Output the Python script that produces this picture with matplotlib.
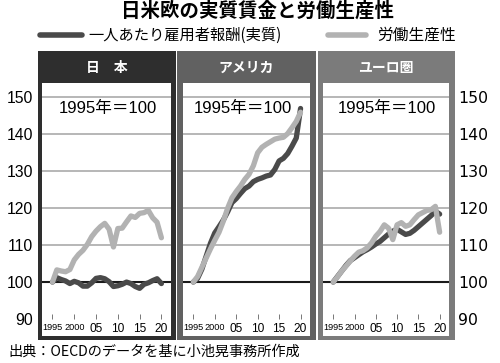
import numpy as np
import matplotlib
matplotlib.use('Agg')
import matplotlib.pyplot as plt
from matplotlib.patches import Rectangle
from matplotlib.lines import Line2D

JP = ['Noto Sans CJK JP', 'DejaVu Sans']
NUM = ['Liberation Sans', 'Noto Sans CJK JP', 'DejaVu Sans']

years = np.arange(1995, 2021)

jp_wage = [100, 101.2, 100.7, 100.3, 99.6, 100.2, 99.8, 98.9, 98.9, 99.8, 101.0, 101.2, 100.9,
           100.1, 98.8, 99.0, 99.4, 100.0, 99.6, 98.8, 98.3, 99.4, 99.8, 100.4, 100.9, 99.6]
jp_prod = [100, 103.3, 103.0, 102.8, 103.4, 106.0, 107.5, 108.6, 110.2, 112.3, 113.8, 115.0, 115.9,
           114.3, 109.5, 114.5, 114.6, 116.3, 117.9, 117.5, 118.6, 118.8, 119.4, 117.4, 116.2, 112.0]
us_wage = [100, 101.0, 103.5, 107.0, 110.5, 113.3, 115.0, 116.8, 119.0, 121.5, 122.6, 124.0, 125.3,
           126.0, 127.2, 127.8, 128.2, 128.7, 129.0, 130.5, 132.8, 133.5, 134.8, 136.8, 139.0, 147.0]
us_prod = [100, 101.5, 104.0, 106.5, 109.0, 111.3, 113.5, 116.5, 120.0, 122.8, 124.5, 126.0, 127.8,
           129.2, 131.5, 135.0, 136.5, 137.3, 138.0, 138.7, 139.0, 139.2, 140.2, 141.8, 143.5, 146.0]
eu_wage = [100, 101.5, 103.0, 104.5, 105.8, 106.6, 107.4, 108.2, 108.8, 109.5, 110.3, 111.0, 112.0,
           113.0, 113.8, 114.3, 113.6, 112.9, 113.2, 114.0, 115.0, 116.0, 117.0, 118.0, 119.2, 118.4]
eu_prod = [100, 101.4, 103.0, 104.3, 105.7, 107.0, 108.1, 108.5, 109.3, 110.6, 112.4, 113.7, 115.5,
           114.6, 111.5, 115.5, 116.1, 115.1, 115.5, 116.9, 118.2, 118.8, 119.4, 119.6, 120.5, 113.5]

regions = ['日　本', 'アメリカ', 'ユーロ圏']
wages = [jp_wage, us_wage, eu_wage]
prods = [jp_prod, us_prod, eu_prod]

year_ticks = [1995, 2000, 2005, 2010, 2015, 2020]
year_labels = ['1995', '2000', '05', '10', '15', '20']
y_ticks = [90, 100, 110, 120, 130, 140, 150]

WAGE_COLOR = '#4a4a4a'
PROD_COLOR = '#b2b2b2'

W, H = 500, 363
# frame x0, frame x1, inner x0, inner x1, frame colour, x of the "1995年＝100" note
panels = [(38, 176, 42, 171, '#2e2e2e', 0.51),
          (177, 316, 183, 310, '#616161', 0.47),
          (318, 455, 323, 449, '#7b7b7b', 0.51)]
FRAME_TOP, FRAME_BOT = 51, 340
INNER_TOP, INNER_BOT = 83, 336


def fig_box(x0, x1, top, bot):
    return [x0 / W, 1 - bot / H, (x1 - x0) / W, (bot - top) / H]


fig = plt.figure(figsize=(5, 3.63), dpi=100)

fig.text(258 / W, 1 - 11 / H, '日米欧の実質賃金と労働生産性', family=JP, fontsize=14,
         fontweight='bold', ha='center', va='center')

# legend drawn by hand
fig.add_artist(Line2D([40 / W, 82 / W], [1 - 35 / H] * 2, color=WAGE_COLOR, lw=4,
                      solid_capstyle='round'))
fig.text(88 / W, 1 - 35 / H, '一人あたり雇用者報酬(実質)', family=JP, fontsize=11,
         ha='left', va='center')
fig.add_artist(Line2D([328 / W, 366 / W], [1 - 35 / H] * 2, color=PROD_COLOR, lw=4,
                      solid_capstyle='round'))
fig.text(377 / W, 1 - 35 / H, '労働生産性', family=JP, fontsize=11.3, ha='left', va='center')

for i, (fx0, fx1, ix0, ix1, fc, note_x) in enumerate(panels):
    fig.add_artist(Rectangle((fx0 / W, 1 - FRAME_BOT / H), (fx1 - fx0) / W,
                             (FRAME_BOT - FRAME_TOP) / H, transform=fig.transFigure,
                             facecolor=fc, edgecolor='none', zorder=-1))
    fig.text((ix0 + ix1) / 2 / W, 1 - 68 / H, regions[i], family=JP, fontsize=10,
             fontweight='bold', color='white', ha='center', va='center')

    ax = fig.add_axes(fig_box(ix0, ix1, INNER_TOP, INNER_BOT))
    ax.set_facecolor('white')
    ax.set_xlim(1992.6, 2022.2)
    ax.set_ylim(85.4, 153.9)
    for s in ax.spines.values():
        s.set_visible(False)

    for v in y_ticks[2:]:
        ax.axhline(v, color='#a3a3a3', lw=1.1, zorder=1)
    ax.axhline(y_ticks[1], color='#1a1a1a', lw=1.5, zorder=1)

    ax.plot(years, wages[i], color=WAGE_COLOR, lw=3.8, zorder=3, solid_capstyle='round')
    ax.plot(years, prods[i], color=PROD_COLOR, lw=3.8, zorder=4, solid_capstyle='round')

    ax.text(note_x, 0.9, '1995年＝100', transform=ax.transAxes, family=NUM, fontsize=12,
            ha='center', va='center')

    ax.set_xticks([])
    ax.set_yticks(y_ticks)
    ax.tick_params(axis='y', length=0, labelsize=11.3, pad=6.5)
    for lab in ax.get_yticklabels():
        lab.set_family(NUM)
    if i == 2:
        ax.yaxis.tick_right()
    elif i == 1:
        ax.set_yticklabels([])

    # year ticks sit inside the white area
    sec = ax.secondary_xaxis(0.067)
    sec.set_xticks(year_ticks, year_labels)
    sec.spines['bottom'].set_visible(False)
    sec.tick_params(direction='in', length=3.5, width=0.7, color='#777777', pad=2.5)
    for lab in sec.get_xticklabels():
        # four-digit years are set smaller so they do not run together
        lab.set_family(NUM)
        lab.set_fontsize(6.6 if len(lab.get_text()) > 2 else 8.6)

fig.text(8 / W, 1 - 352 / H, '出典：OECDのデータを基に小池晃事務所作成', family=JP,
         fontsize=10.2, ha='left', va='center')

fig.savefig('out.png', dpi=100, facecolor='white')
